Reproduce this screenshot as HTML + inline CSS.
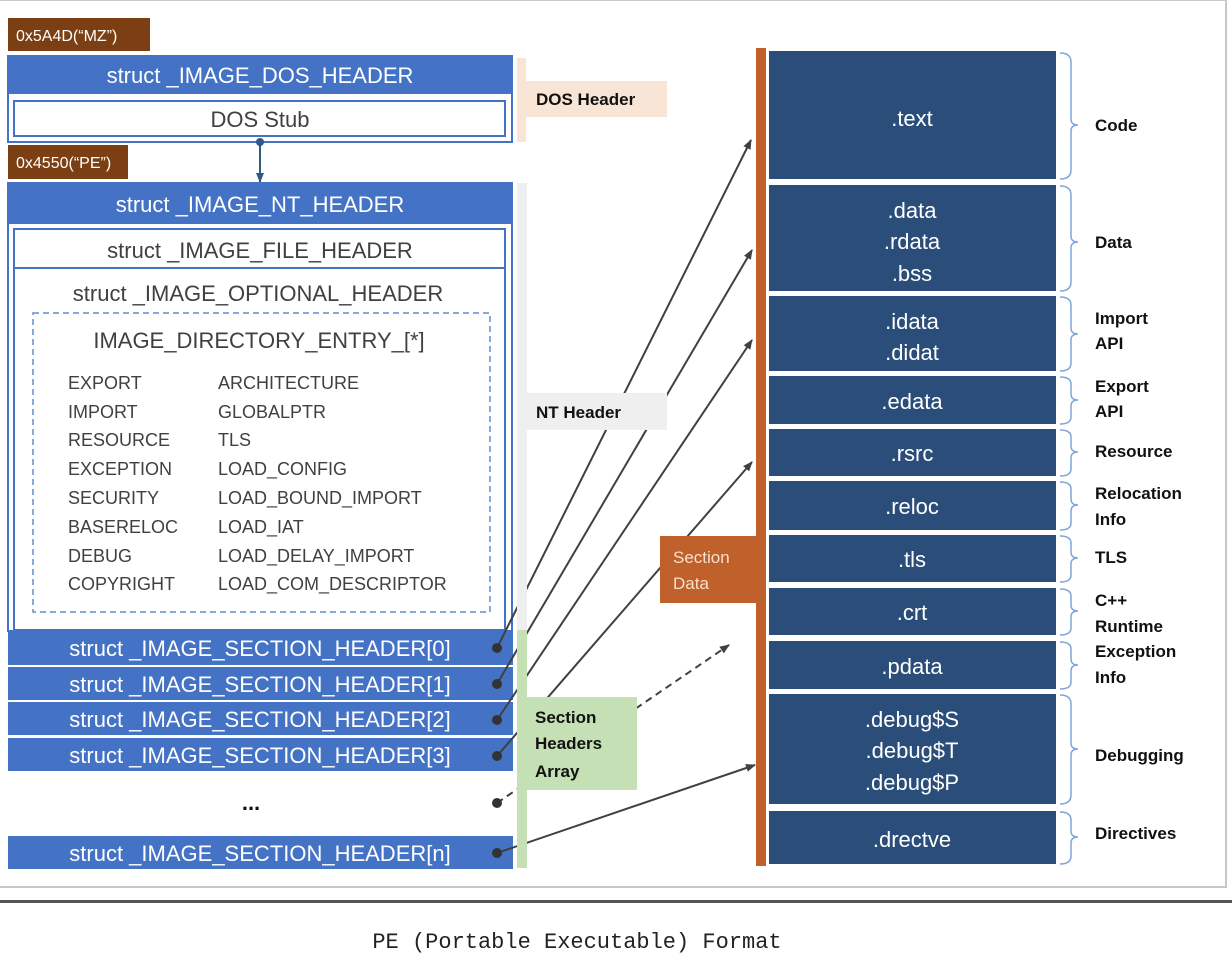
<!DOCTYPE html>
<html><head><meta charset="utf-8"><style>
html,body{margin:0;padding:0;background:#fff;}
svg{display:block}
text{font-family:"Liberation Sans",sans-serif;}
.w{fill:#fff;font-size:22px;text-anchor:middle}
.g{fill:#404040;font-size:18px}
.b{fill:#111;font-size:17px;font-weight:bold}
.s{fill:#fff;font-size:22px;text-anchor:middle}
.br{fill:none;stroke:#7ea6d8;stroke-width:1.5}
.ln{stroke:#404040;stroke-width:2;fill:none}
</style></head><body>
<svg width="1232" height="960" viewBox="0 0 1232 960" xmlns="http://www.w3.org/2000/svg">
<defs><marker id="ar" markerWidth="10" markerHeight="10" refX="9" refY="5" orient="auto" markerUnits="userSpaceOnUse"><path d="M0,1 L10,5 L0,9 z" fill="#404040"/></marker>
<marker id="ab" markerWidth="10" markerHeight="10" refX="9" refY="5" orient="auto" markerUnits="userSpaceOnUse"><path d="M0,1 L10,5 L0,9 z" fill="#2e5a8a"/></marker></defs>
<!-- frame -->
<rect x="-2" y="0" width="1228" height="887" fill="none" stroke="#c8c8c8" stroke-width="2"/>
<rect x="0" y="900" width="1232" height="3" fill="#555"/>
<text x="577" y="948" text-anchor="middle" style="font-family:'Liberation Mono',monospace;font-size:22px;fill:#222">PE (Portable Executable) Format</text>

<!-- left column -->
<rect x="8" y="18" width="142" height="33" fill="#7b3f13"/>
<text x="16" y="41" style="fill:#fff;font-size:16px">0x5A4D(“MZ”)</text>
<rect x="8" y="56" width="504" height="86" fill="#fff" stroke="#4472c4" stroke-width="2"/>
<rect x="8" y="56" width="504" height="38" fill="#4472c4"/>
<text class="w" x="260" y="83">struct _IMAGE_DOS_HEADER</text>
<rect x="14" y="101" width="491" height="35" fill="#fff" stroke="#4472c4" stroke-width="2"/>
<text x="260" y="127" text-anchor="middle" style="fill:#404040;font-size:22px">DOS Stub</text>
<line x1="260" y1="142" x2="260" y2="182" stroke="#2e5a8a" stroke-width="2" marker-end="url(#ab)"/>
<circle cx="260" cy="142" r="4" fill="#2e5a8a"/>
<rect x="8" y="145" width="120" height="34" fill="#7b3f13"/>
<text x="16" y="168" style="fill:#fff;font-size:16px">0x4550(“PE”)</text>

<rect x="8" y="183" width="504" height="448" fill="#fff" stroke="#4472c4" stroke-width="2"/>
<rect x="8" y="183" width="504" height="41" fill="#4472c4"/>
<text class="w" x="260" y="212">struct _IMAGE_NT_HEADER</text>
<rect x="14" y="229" width="491" height="39" fill="#fff" stroke="#4472c4" stroke-width="2"/>
<text x="260" y="258" text-anchor="middle" style="fill:#404040;font-size:22px">struct _IMAGE_FILE_HEADER</text>
<rect x="14" y="268" width="491" height="362" fill="#fff" stroke="#4472c4" stroke-width="2"/>
<text x="258" y="301" text-anchor="middle" style="fill:#404040;font-size:22px">struct _IMAGE_OPTIONAL_HEADER</text>
<rect x="33" y="313" width="457" height="299" fill="none" stroke="#5b8fd0" stroke-width="1.5" stroke-dasharray="6,4"/>
<text x="259" y="348" text-anchor="middle" style="fill:#404040;font-size:22px">IMAGE_DIRECTORY_ENTRY_[*]</text>
<g class="g">
<text x="68" y="389">EXPORT</text><text x="218" y="389">ARCHITECTURE</text>
<text x="68" y="418">IMPORT</text><text x="218" y="418">GLOBALPTR</text>
<text x="68" y="446">RESOURCE</text><text x="218" y="446">TLS</text>
<text x="68" y="475">EXCEPTION</text><text x="218" y="475">LOAD_CONFIG</text>
<text x="68" y="504">SECURITY</text><text x="218" y="504">LOAD_BOUND_IMPORT</text>
<text x="68" y="533">BASERELOC</text><text x="218" y="533">LOAD_IAT</text>
<text x="68" y="562">DEBUG</text><text x="218" y="562">LOAD_DELAY_IMPORT</text>
<text x="68" y="590">COPYRIGHT</text><text x="218" y="590">LOAD_COM_DESCRIPTOR</text>
</g>
<rect x="8" y="630" width="505" height="35" fill="#4472c4"/><text class="s" x="260" y="656">struct _IMAGE_SECTION_HEADER[0]</text>
<rect x="8" y="667" width="505" height="33" fill="#4472c4"/><text class="s" x="260" y="692">struct _IMAGE_SECTION_HEADER[1]</text>
<rect x="8" y="702" width="505" height="33" fill="#4472c4"/><text class="s" x="260" y="727">struct _IMAGE_SECTION_HEADER[2]</text>
<rect x="8" y="738" width="505" height="33" fill="#4472c4"/><text class="s" x="260" y="763">struct _IMAGE_SECTION_HEADER[3]</text>
<text x="251" y="810" text-anchor="middle" style="fill:#111;font-size:22px;font-weight:bold">...</text>
<rect x="8" y="836" width="505" height="33" fill="#4472c4"/><text class="s" x="260" y="861">struct _IMAGE_SECTION_HEADER[n]</text>

<!-- connectors (behind labels) -->
<line class="ln" x1="497" y1="648" x2="751" y2="140" marker-end="url(#ar)"/>
<line class="ln" x1="497" y1="684" x2="752" y2="250" marker-end="url(#ar)"/>
<line class="ln" x1="497" y1="720" x2="752" y2="340" marker-end="url(#ar)"/>
<line class="ln" x1="497" y1="756" x2="752" y2="462" marker-end="url(#ar)"/>
<line class="ln" x1="497" y1="803" x2="729" y2="645" stroke-dasharray="7,5" marker-end="url(#ar)"/>
<line class="ln" x1="497" y1="853" x2="755" y2="765" marker-end="url(#ar)"/>

<!-- middle labels -->
<rect x="517" y="58" width="9" height="84" fill="#f8e5d6"/>
<rect x="525" y="81" width="142" height="36" fill="#f8e5d6"/>
<text class="b" x="536" y="105">DOS Header</text>
<rect x="517" y="183" width="10" height="447" fill="#efefef"/>
<rect x="522" y="393" width="145" height="37" fill="#efefef"/>
<text class="b" x="536" y="418">NT Header</text>
<rect x="517" y="630" width="10" height="238" fill="#c5e0b4"/>
<rect x="517" y="697" width="120" height="93" fill="#c5e0b4"/>
<text class="b" x="535" y="723">Section</text>
<text class="b" x="535" y="749">Headers</text>
<text class="b" x="535" y="777">Array</text>

<g fill="#333">
<circle cx="497" cy="648" r="5"/><circle cx="497" cy="684" r="5"/><circle cx="497" cy="720" r="5"/>
<circle cx="497" cy="756" r="5"/><circle cx="497" cy="803" r="5"/><circle cx="497" cy="853" r="5"/>
</g>

<!-- right -->
<rect x="660" y="536" width="98" height="67" fill="#c0602a"/>
<text x="673" y="563" style="fill:#f8e0cc;font-size:17px">Section</text>
<text x="673" y="589" style="fill:#f8e0cc;font-size:17px">Data</text>
<rect x="756" y="48" width="10" height="818" fill="#c0602a"/>
<g fill="#2a4e79">
<rect x="769" y="51" width="287" height="128"/>
<rect x="769" y="185" width="287" height="106"/>
<rect x="769" y="296" width="287" height="75"/>
<rect x="769" y="376" width="287" height="48"/>
<rect x="769" y="429" width="287" height="47"/>
<rect x="769" y="481" width="287" height="49"/>
<rect x="769" y="535" width="287" height="47"/>
<rect x="769" y="588" width="287" height="47"/>
<rect x="769" y="641" width="287" height="48"/>
<rect x="769" y="694" width="287" height="110"/>
<rect x="769" y="811" width="287" height="53"/>
</g>
<g class="w">
<text x="912" y="126">.text</text>
<text x="912" y="218">.data</text><text x="912" y="249">.rdata</text><text x="912" y="281">.bss</text>
<text x="912" y="329">.idata</text><text x="912" y="360">.didat</text>
<text x="912" y="409">.edata</text>
<text x="912" y="461">.rsrc</text>
<text x="912" y="514">.reloc</text>
<text x="912" y="567">.tls</text>
<text x="912" y="620">.crt</text>
<text x="912" y="674">.pdata</text>
<text x="912" y="727">.debug$S</text><text x="912" y="758">.debug$T</text><text x="912" y="790">.debug$P</text>
<text x="912" y="847">.drectve</text>
</g>
<g class="br">
<path d="M1060,53 Q1071,53 1071,62 L1071,119 Q1071,125 1078,125 Q1071,125 1071,131 L1071,170 Q1071,179 1060,179"/>
<path d="M1060,186 Q1071,186 1071,195 L1071,236 Q1071,242 1078,242 Q1071,242 1071,248 L1071,282 Q1071,291 1060,291"/>
<path d="M1060,297 Q1071,297 1071,305 L1071,328 Q1071,334 1078,334 Q1071,334 1071,340 L1071,363 Q1071,371 1060,371"/>
<path d="M1060,377 Q1071,377 1071,384 L1071,394 Q1071,400 1078,400 Q1071,400 1071,406 L1071,417 Q1071,424 1060,424"/>
<path d="M1060,430 Q1071,430 1071,437 L1071,446 Q1071,452 1078,452 Q1071,452 1071,458 L1071,469 Q1071,476 1060,476"/>
<path d="M1060,482 Q1071,482 1071,489 L1071,499 Q1071,505 1078,505 Q1071,505 1071,511 L1071,523 Q1071,530 1060,530"/>
<path d="M1060,536 Q1071,536 1071,543 L1071,552 Q1071,558 1078,558 Q1071,558 1071,564 L1071,575 Q1071,582 1060,582"/>
<path d="M1060,589 Q1071,589 1071,596 L1071,605 Q1071,611 1078,611 Q1071,611 1071,617 L1071,628 Q1071,635 1060,635"/>
<path d="M1060,642 Q1071,642 1071,649 L1071,659 Q1071,665 1078,665 Q1071,665 1071,671 L1071,682 Q1071,689 1060,689"/>
<path d="M1060,695 Q1071,695 1071,704 L1071,743 Q1071,749 1078,749 Q1071,749 1071,755 L1071,795 Q1071,804 1060,804"/>
<path d="M1060,812 Q1071,812 1071,820 L1071,831 Q1071,837 1078,837 Q1071,837 1071,843 L1071,856 Q1071,864 1060,864"/>
</g>
<g class="b">
<text x="1095" y="131">Code</text>
<text x="1095" y="248">Data</text>
<text x="1095" y="324">Import</text><text x="1095" y="349">API</text>
<text x="1095" y="392">Export</text><text x="1095" y="417">API</text>
<text x="1095" y="457">Resource</text>
<text x="1095" y="499">Relocation</text><text x="1095" y="525">Info</text>
<text x="1095" y="563">TLS</text>
<text x="1095" y="606">C++</text><text x="1095" y="632">Runtime</text>
<text x="1095" y="657">Exception</text><text x="1095" y="683">Info</text>
<text x="1095" y="761">Debugging</text>
<text x="1095" y="839">Directives</text>
</g>
</svg>
</body></html>
